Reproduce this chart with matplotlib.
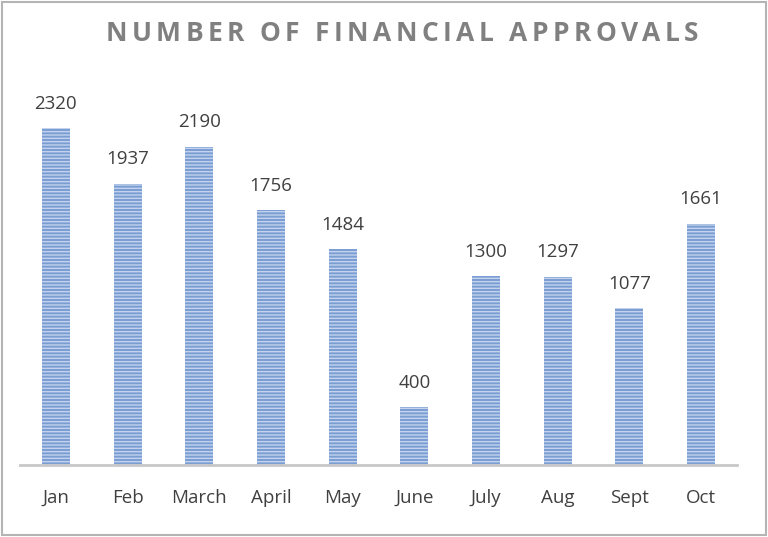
import matplotlib.pyplot as plt
from matplotlib.patches import Rectangle

months = ['Jan', 'Feb', 'March', 'April', 'May', 'June', 'July', 'Aug', 'Sept', 'Oct']
approvals = [2320, 1937, 2190, 1756, 1484, 400, 1300, 1297, 1077, 1661]
title = 'NUMBER OF FINANCIAL APPROVALS'

plt.rcParams['font.family'] = ['Open Sans', 'DejaVu Sans']
plt.rcParams['hatch.linewidth'] = 1.0

fig = plt.figure(figsize=(7.68, 5.37), dpi=100)
ax = fig.add_axes([20 / 768, 72 / 537, 717 / 768, 405 / 537])

x = range(len(months))
bars = ax.bar(x, approvals, width=0.39, color='#7a9dd2', edgecolor='#c3d3ee',
              linewidth=0, hatch='-----')

for xi, v in zip(x, approvals):
    ax.annotate(str(v), (xi, v), xytext=(0, 11), textcoords='offset points',
                ha='center', va='bottom', fontsize=13.5, color='#404040')

ax.set_xlim(-0.5, 9.5)
ax.set_ylim(0, 2787)
ax.set_xticks(list(x))
ax.set_xticklabels(months, fontsize=13.5, color='#404040')
ax.tick_params(axis='x', length=0, pad=17)
ax.set_yticks([])
for s in ['top', 'right', 'left']:
    ax.spines[s].set_visible(False)
ax.spines['bottom'].set_color('#c8c8c8')
ax.spines['bottom'].set_linewidth(2)

# title with letter spacing, placed character by character
renderer = fig.canvas.get_renderer()
spacing = 4.4  # px between letters
chars = []
widths = []
for ch in title:
    t = fig.text(0, 0.937, ch, ha='left', va='center', fontsize=19,
                 fontweight='bold', color='#808080')
    chars.append(t)
    widths.append(t.get_window_extent(renderer).width if ch != ' ' else 0)
space_w = fig.text(0, 0, 'N N', fontsize=19, fontweight='bold').get_window_extent(renderer).width \
    - 2 * widths[0]
fig.texts.pop()
widths = [w if ch != ' ' else space_w for ch, w in zip(title, widths)]
total = sum(widths) + spacing * (len(title) - 1)
pos = 402 - total / 2
for t, w in zip(chars, widths):
    t.set_x(pos / 768)
    pos += w + spacing

fig.patches.append(Rectangle((0.002, 0.003), 0.996, 0.994, transform=fig.transFigure,
                             fill=False, edgecolor='#b4b4b4', linewidth=1.5))

fig.savefig('out.png', dpi=100)
